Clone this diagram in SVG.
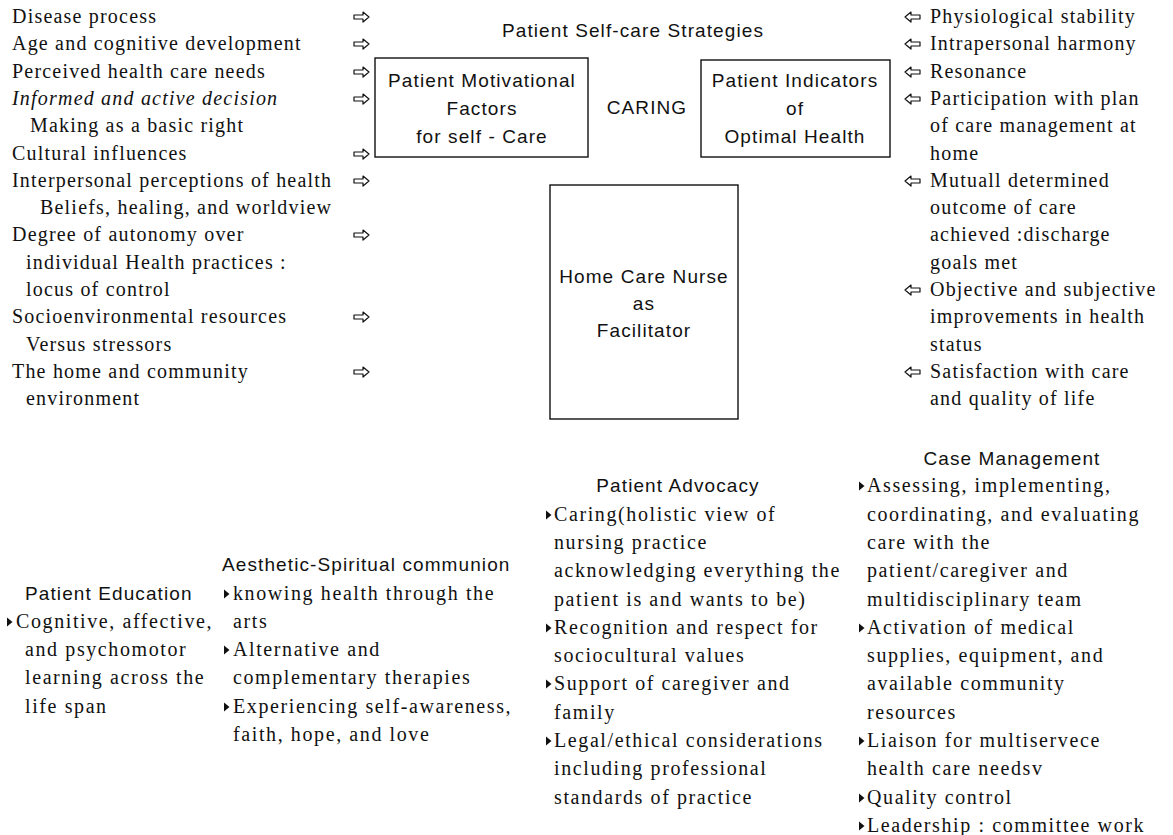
<svg xmlns="http://www.w3.org/2000/svg" width="1173" height="835" viewBox="0 0 1173 835">
<style>
.s{font-family:"Liberation Serif","Times New Roman",serif;font-size:20px;letter-spacing:1.2px;fill:#111}
.b{font-family:"Liberation Serif","Times New Roman",serif;font-size:20px;letter-spacing:1.6px;fill:#111}
.h{font-family:"Liberation Sans",Arial,sans-serif;font-size:19px;letter-spacing:1.1px;fill:#111}
.c{text-anchor:middle}
.box{fill:none;stroke:#111;stroke-width:1.4}
.arr{fill:#fff;stroke:#111;stroke-width:1.2;stroke-linejoin:round}
.bul{fill:#111}
</style>
<defs>
<polygon id="ra" class="arr" points="0,-2 9,-2 9,-5 15,0 9,5 9,2 0,2"/>
<polygon id="la" class="arr" points="15,-2 6,-2 6,-5 0,0 6,5 6,2 15,2"/>
<polygon id="bt" class="bul" points="0,-4.5 5.5,0 0,4.5"/>
</defs>

<g id="title"><text class="h c" x="633" y="37">Patient Self-care Strategies</text></g>

<g id="node-motivational">
<rect class="box" x="375" y="58" width="213" height="99"/>
<text class="h c" x="482" y="87">Patient Motivational</text>
<text class="h c" x="482" y="115">Factors</text>
<text class="h c" x="482" y="143">for self - Care</text>
</g>
<g id="node-caring"><text class="h c" x="647" y="114">CARING</text></g>
<g id="node-indicators">
<rect class="box" x="701" y="60" width="189" height="97"/>
<text class="h c" x="795" y="87">Patient Indicators</text>
<text class="h c" x="795" y="115">of</text>
<text class="h c" x="795" y="143">Optimal Health</text>
</g>
<g id="node-nurse">
<rect class="box" x="550" y="185" width="188" height="234"/>
<text class="h c" x="644" y="283">Home Care Nurse</text>
<text class="h c" x="644" y="310">as</text>
<text class="h c" x="644" y="337">Facilitator</text>
</g>

<g id="left-factors">
<text class="s" x="12" y="23">Disease process</text>
<text class="s" x="12" y="50">Age and cognitive development</text>
<text class="s" x="12" y="78">Perceived health care needs</text>
<text class="s" x="12" y="105" font-style="italic">Informed and active decision</text>
<text class="s" x="30" y="132">Making as a basic right</text>
<text class="s" x="12" y="160">Cultural influences</text>
<text class="s" x="12" y="187">Interpersonal perceptions of health</text>
<text class="s" x="40" y="214">Beliefs, healing, and worldview</text>
<text class="s" x="12" y="241">Degree of autonomy over</text>
<text class="s" x="26" y="269">individual Health practices :</text>
<text class="s" x="26" y="296">locus of control</text>
<text class="s" x="12" y="323">Socioenvironmental resources</text>
<text class="s" x="26" y="351">Versus stressors</text>
<text class="s" x="12" y="378">The home and community</text>
<text class="s" x="26" y="405">environment</text>
</g>

<g id="right-indicators">
<text class="s" x="930" y="23">Physiological stability</text>
<text class="s" x="930" y="50">Intrapersonal harmony</text>
<text class="s" x="930" y="78">Resonance</text>
<text class="s" x="930" y="105">Participation with plan</text>
<text class="s" x="930" y="132">of care management at</text>
<text class="s" x="930" y="160">home</text>
<text class="s" x="930" y="187">Mutuall determined</text>
<text class="s" x="930" y="214">outcome of care</text>
<text class="s" x="930" y="241">achieved :discharge</text>
<text class="s" x="930" y="269">goals met</text>
<text class="s" x="930" y="296">Objective and subjective</text>
<text class="s" x="930" y="323">improvements in health</text>
<text class="s" x="930" y="351">status</text>
<text class="s" x="930" y="378">Satisfaction with care</text>
<text class="s" x="930" y="405">and quality of  life</text>
</g>

<g id="connectors">
<use href="#ra" x="354" y="17"/>
<use href="#ra" x="354" y="44"/>
<use href="#ra" x="354" y="72"/>
<use href="#ra" x="354" y="99"/>
<use href="#ra" x="354" y="154"/>
<use href="#ra" x="354" y="181"/>
<use href="#ra" x="354" y="235"/>
<use href="#ra" x="354" y="317"/>
<use href="#ra" x="354" y="372"/>
<use href="#la" x="905" y="17"/>
<use href="#la" x="905" y="44"/>
<use href="#la" x="905" y="72"/>
<use href="#la" x="905" y="99"/>
<use href="#la" x="905" y="181"/>
<use href="#la" x="905" y="290"/>
<use href="#la" x="905" y="372"/>
</g>

<g id="education">
<text class="h" x="25" y="600">Patient Education</text>
<use href="#bt" x="7" y="622"/>
<text class="b" x="16" y="628">Cognitive, affective,</text>
<text class="b" x="25" y="656">and psychomotor</text>
<text class="b" x="25" y="684">learning across the</text>
<text class="b" x="25" y="713">life span</text>
</g>

<g id="aesthetic">
<text class="h" x="222" y="571">Aesthetic-Spiritual communion</text>
<use href="#bt" x="224" y="594"/>
<text class="b" x="233" y="600">knowing health through the</text>
<text class="b" x="233" y="628">arts</text>
<use href="#bt" x="224" y="650"/>
<text class="b" x="233" y="656">Alternative and</text>
<text class="b" x="233" y="684">complementary therapies</text>
<use href="#bt" x="224" y="707"/>
<text class="b" x="233" y="713">Experiencing self-awareness,</text>
<text class="b" x="233" y="741">faith, hope, and love</text>
</g>

<g id="advocacy">
<text class="h c" x="678" y="492">Patient Advocacy</text>
<use href="#bt" x="546" y="515"/>
<text class="b" x="554" y="521">Caring(holistic view of</text>
<text class="b" x="554" y="549">nursing practice</text>
<text class="b" x="554" y="577">acknowledging everything the</text>
<text class="b" x="554" y="606">patient is and wants to be)</text>
<use href="#bt" x="546" y="628"/>
<text class="b" x="554" y="634">Recognition and respect for</text>
<text class="b" x="554" y="662">sociocultural values</text>
<use href="#bt" x="546" y="684"/>
<text class="b" x="554" y="690">Support of caregiver and</text>
<text class="b" x="554" y="719">family</text>
<use href="#bt" x="546" y="741"/>
<text class="b" x="554" y="747">Legal/ethical considerations</text>
<text class="b" x="554" y="775">including professional</text>
<text class="b" x="554" y="804">standards of practice</text>
</g>

<g id="case-management">
<text class="h c" x="1012" y="465">Case Management</text>
<use href="#bt" x="859" y="486"/>
<text class="b" x="867" y="492">Assessing, implementing,</text>
<text class="b" x="867" y="521">coordinating, and evaluating</text>
<text class="b" x="867" y="549">care with the</text>
<text class="b" x="867" y="577">patient/caregiver and</text>
<text class="b" x="867" y="606">multidisciplinary team</text>
<use href="#bt" x="859" y="628"/>
<text class="b" x="867" y="634">Activation of medical</text>
<text class="b" x="867" y="662">supplies, equipment, and</text>
<text class="b" x="867" y="690">available community</text>
<text class="b" x="867" y="719">resources</text>
<use href="#bt" x="859" y="741"/>
<text class="b" x="867" y="747">Liaison for multiservece</text>
<text class="b" x="867" y="775">health care needsv</text>
<use href="#bt" x="859" y="798"/>
<text class="b" x="867" y="804">Quality control</text>
<use href="#bt" x="859" y="826"/>
<text class="b" x="867" y="832">Leadership : committee work</text>
</g>
</svg>
